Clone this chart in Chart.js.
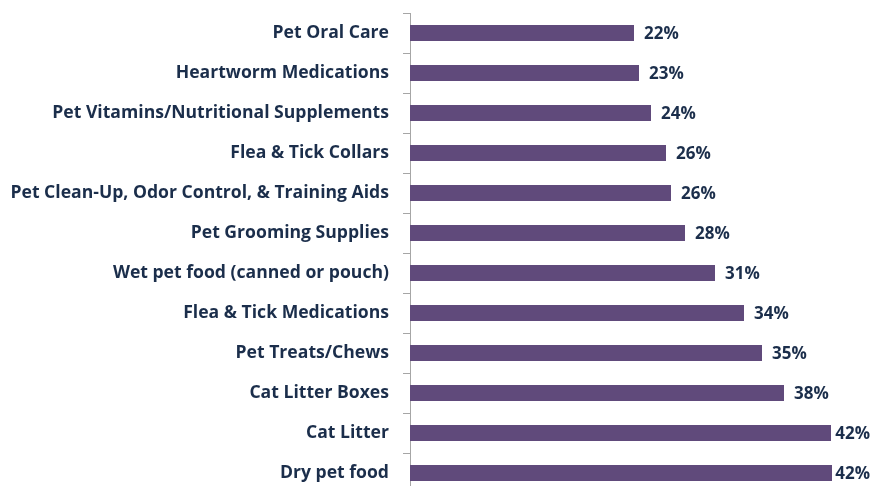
<!DOCTYPE html>
<html lang="en">
<head>
    <meta charset="UTF-8">
    <title>Pet Product Purchases</title>
    <script src="https://cdn.jsdelivr.net/npm/chart.js"></script>
    <style>
        html, body { margin: 0; padding: 0; background: #fff; overflow: hidden; }
        canvas { display: block; }
    </style>
</head>
<body>
    <canvas id="petChart" width="873" height="493"></canvas>

    <script>
        // Categories, top to bottom
        const categories = [
            'Pet Oral Care',
            'Heartworm Medications',
            'Pet Vitamins/Nutritional Supplements',
            'Flea & Tick Collars',
            'Pet Clean-Up, Odor Control, & Training Aids',
            'Pet Grooming Supplies',
            'Wet pet food (canned or pouch)',
            'Flea & Tick Medications',
            'Pet Treats/Chews',
            'Cat Litter Boxes',
            'Cat Litter',
            'Dry pet food'
        ];

        // Bar lengths (%)
        const values = [22.4, 22.9, 24.1, 25.6, 26.1, 27.5, 30.5, 33.4, 35.2, 37.4, 42.1, 42.2];

        // Printed labels next to each bar
        const valueLabels = ['22%', '23%', '24%', '26%', '26%', '28%', '31%', '34%', '35%', '38%', '42%', '42%'];

        const barColor = '#604a7b';
        const textColor = '#1b2e4b';
        const axisColor = '#a6a6a6';
        const fontFamily = '"Open Sans", Lato, sans-serif';

        // Draw the % labels at the end of the bars
        const valueLabelPlugin = {
            id: 'valueLabels',
            afterDatasetsDraw(chart) {
                const ctx = chart.ctx;
                const meta = chart.getDatasetMeta(0);
                ctx.save();
                ctx.font = 'bold 17px ' + fontFamily;
                ctx.fillStyle = textColor;
                ctx.textBaseline = 'middle';
                ctx.textAlign = 'left';
                meta.data.forEach((bar, i) => {
                    const txt = valueLabels[i];
                    const w = ctx.measureText(txt).width;
                    let x = bar.x + 10;
                    if (x + w > chart.width - 3) x = chart.width - 3 - w;
                    ctx.fillText(txt, x, bar.y + 1);
                });
                ctx.restore();
            }
        };

        new Chart(document.getElementById('petChart').getContext('2d'), {
            type: 'bar',
            data: {
                labels: categories,
                datasets: [{
                    data: values,
                    backgroundColor: barColor,
                    borderWidth: 0,
                    barPercentage: 0.4,
                    categoryPercentage: 1
                }]
            },
            options: {
                indexAxis: 'y',
                responsive: false,
                animation: false,
                layout: { padding: { top: 13, right: 0, bottom: 0, left: 0 } },
                plugins: {
                    legend: { display: false },
                    tooltip: { enabled: false }
                },
                scales: {
                    x: {
                        display: false,
                        min: 0,
                        max: 46.3
                    },
                    y: {
                        afterFit(scale) {
                            scale.width = 410;
                            scale.paddingTop = 0;
                            scale.paddingBottom = 0;
                        },
                        border: { display: true, color: axisColor, width: 1 },
                        grid: {
                            display: true,
                            drawOnChartArea: false,
                            drawTicks: true,
                            tickLength: 7,
                            color: axisColor,
                            offset: true
                        },
                        ticks: {
                            color: textColor,
                            padding: 14,
                            font: { family: fontFamily, size: 17.6, weight: 'bold' }
                        }
                    }
                }
            },
            plugins: [valueLabelPlugin]
        });
    </script>
</body>
</html>
